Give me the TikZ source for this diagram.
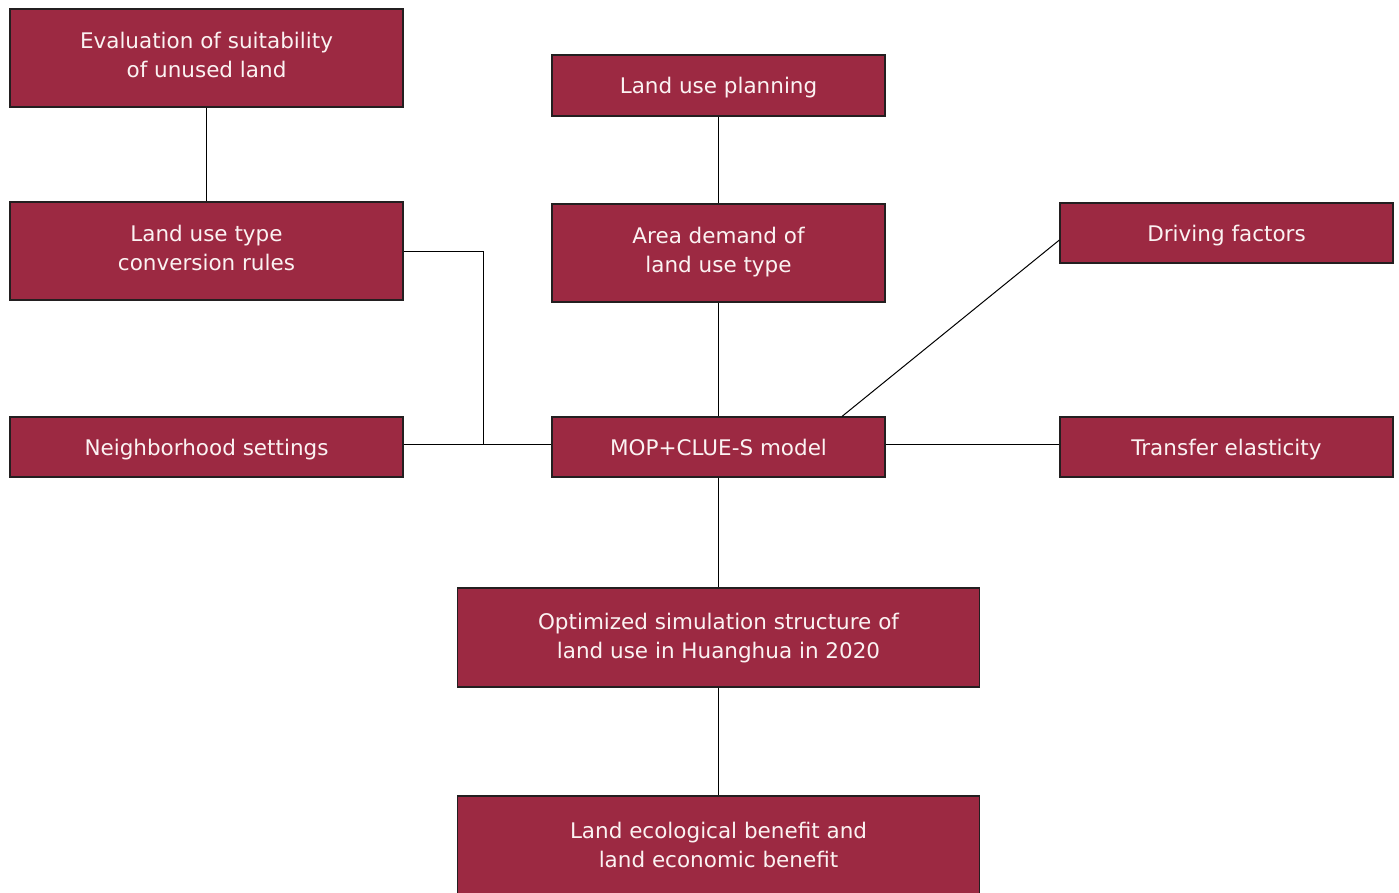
\documentclass[tikz,border=0pt]{standalone}
\usepackage{fontspec}
\setmainfont{DejaVu Sans}
\definecolor{boxfill}{HTML}{9C2942}
\definecolor{boxtext}{HTML}{FBF2F2}
\definecolor{boxline}{HTML}{231F20}
\begin{document}
\begin{tikzpicture}[x=1pt,y=-1pt,
  box/.style={draw=boxline,line width=1.2pt,fill=boxfill,text=boxtext,
    inner sep=0pt,align=center,font=\fontsize{21.5}{29}\selectfont},
  oneline/.style={text height=16pt,text depth=0pt},
  twoline/.style={text height=45.3pt,text depth=#1},
  conn/.style={draw=black,line width=1pt}]
\useasboundingbox (0,0) rectangle (1399,892);
\node[box,twoline=7pt,minimum width=393pt,minimum height=98pt] (eval) at (206.5,58) {Evaluation of suitability\\of unused land};
\node[box,twoline=7pt,minimum width=393pt,minimum height=98pt] (conv) at (206.5,251) {Land use type\\conversion rules};
\node[box,oneline,minimum width=393pt,minimum height=60pt] (neigh) at (206.5,447) {Neighborhood settings};
\node[box,oneline,minimum width=333pt,minimum height=61pt] (plan) at (718.5,85.5) {Land use planning};
\node[box,twoline=6pt,minimum width=333pt,minimum height=98pt] (area) at (718.5,253) {Area demand of\\land use type};
\node[box,oneline,minimum width=333pt,minimum height=60pt] (mop) at (718.5,447) {MOP+CLUE-S model};
\node[box,oneline,minimum width=333pt,minimum height=60pt] (drive) at (1226.5,233) {Driving factors};
\node[box,oneline,minimum width=333pt,minimum height=60pt] (trans) at (1226.5,447) {Transfer elasticity};
\node[box,twoline=3pt,minimum width=522pt,minimum height=99pt] (opt) at (718.5,637.5) {Optimized simulation structure of\\land use in Huanghua in 2020};
\node[box,twoline=1pt,minimum width=522pt,minimum height=98pt] (eco) at (718.5,845) {Land ecological benefit and\\land economic benefit};
\coordinate (j) at (483,444);
\draw[conn] (eval.south) -- (conv.north);
\draw[conn] (conv.east) -| (j);
\draw[conn] (neigh.east|-j) -- (mop.west|-j);
\draw[conn] (plan.south) -- (area.north);
\draw[conn] (area.south) -- (mop.north);
\draw[conn] ([yshift=-7pt]drive.west) -- ([xshift=123.5pt]mop.north);
\draw[conn] (mop.east|-j) -- (trans.west|-j);
\draw[conn] (mop.south) -- (opt.north);
\draw[conn] (opt.south) -- (eco.north);
\end{tikzpicture}
\end{document}
